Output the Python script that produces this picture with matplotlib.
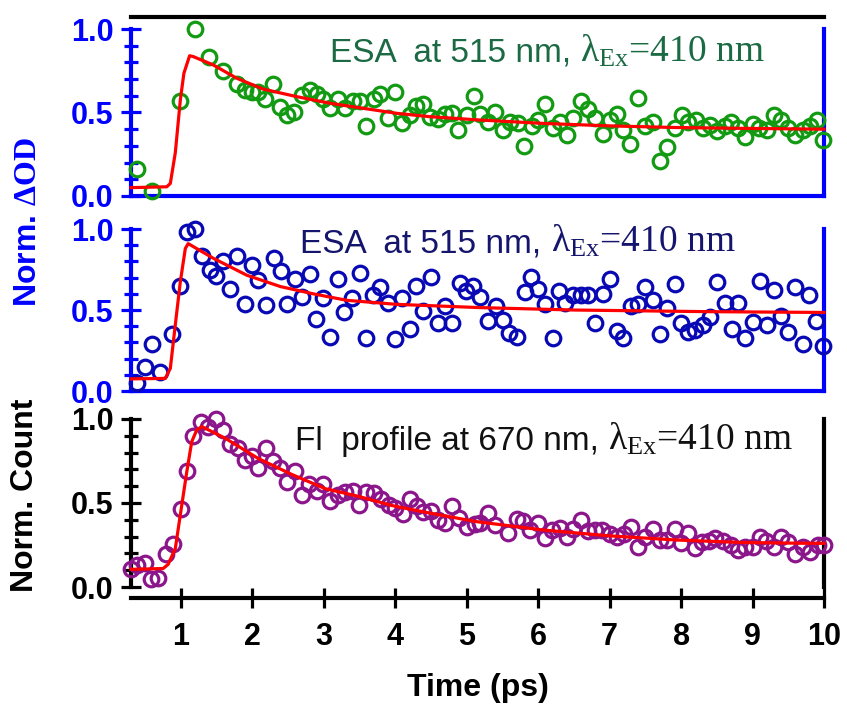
import numpy as np
import matplotlib.pyplot as plt

plt.rcParams['mathtext.fontset'] = 'custom'
plt.rcParams['mathtext.rm'] = 'Liberation Serif'
plt.rcParams['mathtext.it'] = 'Liberation Serif:italic'
plt.rcParams['mathtext.bf'] = 'Liberation Serif:bold'

# ESA 515 nm (green)
t_esa1 = [0.39, 0.59, 0.99, 1.20, 1.39, 1.59, 1.78, 1.90, 1.99, 2.08, 2.18, 2.29, 2.39, 2.48,
          2.58, 2.69, 2.81, 2.90, 2.98, 3.09, 3.20, 3.30, 3.40, 3.50, 3.59, 3.70, 3.79, 3.89,
          4.00, 4.09, 4.20, 4.29, 4.39, 4.48, 4.60, 4.69, 4.79, 4.88, 5.00, 5.10, 5.18, 5.30,
          5.39, 5.50, 5.60, 5.71, 5.80, 5.91, 6.00, 6.10, 6.20, 6.30, 6.40, 6.49, 6.60, 6.70,
          6.79, 6.90, 7.00, 7.10, 7.19, 7.28, 7.39, 7.49, 7.60, 7.70, 7.80, 7.91, 8.01, 8.10,
          8.21, 8.31, 8.41, 8.50, 8.61, 8.70, 8.80, 8.89, 9.00, 9.09, 9.20, 9.30, 9.40, 9.50,
          9.60, 9.70, 9.80, 9.90, 9.99]
y_esa1 = [0.16, 0.03, 0.57, 1.00, 0.83, 0.75, 0.67, 0.635, 0.625, 0.62, 0.58, 0.67, 0.53, 0.485,
          0.50, 0.605, 0.635, 0.61, 0.58, 0.525, 0.58, 0.525, 0.57, 0.57, 0.42, 0.58, 0.61, 0.47,
          0.62, 0.435, 0.485, 0.54, 0.55, 0.475, 0.46, 0.49, 0.495, 0.395, 0.485, 0.60, 0.49, 0.445,
          0.50, 0.395, 0.445, 0.44, 0.30, 0.42, 0.455, 0.55, 0.405, 0.445, 0.365, 0.465, 0.57, 0.52,
          0.465, 0.37, 0.455, 0.49, 0.395, 0.31, 0.585, 0.42, 0.445, 0.21, 0.295, 0.41, 0.485, 0.445,
          0.455, 0.405, 0.425, 0.39, 0.42, 0.445, 0.405, 0.355, 0.43, 0.41, 0.395, 0.485, 0.455, 0.41,
          0.365, 0.395, 0.42, 0.455, 0.335]
t_fit1 = [0.30, 0.80, 0.85, 0.92, 0.99, 1.04, 1.12, 1.17, 1.45, 1.78, 2.15, 2.62, 3.09, 3.55,
          4.02, 4.48, 5.18, 6.05, 6.98, 7.92, 8.85, 10.0]
y_fit1 = [0.05, 0.055, 0.075, 0.26, 0.575, 0.735, 0.84, 0.835, 0.785, 0.705, 0.64, 0.595, 0.555,
          0.525, 0.495, 0.475, 0.455, 0.435, 0.42, 0.41, 0.405, 0.40]

# ESA 515 nm (blue)
t_esa2 = [0.39, 0.49, 0.59, 0.70, 0.87, 0.99, 1.09, 1.20, 1.30, 1.40, 1.49, 1.59, 1.69, 1.79,
          1.90, 1.99, 2.08, 2.19, 2.30, 2.40, 2.49, 2.60, 2.70, 2.80, 2.89, 2.99, 3.09, 3.19,
          3.28, 3.39, 3.50, 3.59, 3.68, 3.79, 3.89, 4.00, 4.09, 4.20, 4.29, 4.39, 4.50, 4.59,
          4.70, 4.79, 4.90, 4.99, 5.09, 5.18, 5.30, 5.41, 5.50, 5.59, 5.70, 5.81, 5.90, 6.00,
          6.10, 6.20, 6.29, 6.38, 6.49, 6.60, 6.70, 6.80, 6.90, 7.00, 7.10, 7.19, 7.30, 7.40,
          7.50, 7.60, 7.70, 7.80, 7.91, 8.00, 8.09, 8.19, 8.30, 8.40, 8.50, 8.61, 8.71, 8.80,
          8.89, 9.00, 9.10, 9.20, 9.30, 9.40, 9.50, 9.60, 9.70, 9.79, 9.89, 9.99]
y_esa2 = [0.05, 0.15, 0.29, 0.12, 0.355, 0.65, 0.98, 1.00, 0.835, 0.745, 0.71, 0.80, 0.63, 0.835,
          0.54, 0.775, 0.685, 0.53, 0.82, 0.74, 0.535, 0.69, 0.58, 0.72, 0.445, 0.575, 0.335, 0.69,
          0.49, 0.575, 0.73, 0.33, 0.59, 0.64, 0.545, 0.32, 0.575, 0.38, 0.65, 0.495, 0.705, 0.42,
          0.525, 0.42, 0.665, 0.62, 0.65, 0.58, 0.43, 0.525, 0.44, 0.36, 0.335, 0.61, 0.705, 0.63,
          0.54, 0.325, 0.62, 0.545, 0.59, 0.595, 0.59, 0.42, 0.60, 0.69, 0.37, 0.33, 0.525, 0.54,
          0.64, 0.56, 0.355, 0.51, 0.66, 0.42, 0.365, 0.375, 0.41, 0.46, 0.67, 0.545, 0.38, 0.545,
          0.325, 0.425, 0.68, 0.405, 0.625, 0.465, 0.365, 0.64, 0.29, 0.59, 0.43, 0.275]
t_fit2 = [0.30, 0.78, 0.85, 0.92, 0.99, 1.06, 1.10, 1.45, 1.92, 2.39, 2.85, 3.32, 4.02, 5.18,
          6.51, 8.37, 10.0]
y_fit2 = [0.075, 0.078, 0.14, 0.41, 0.675, 0.88, 0.91, 0.82, 0.715, 0.645, 0.60, 0.56, 0.535,
          0.515, 0.50, 0.49, 0.485]

# Fl profile 670 nm (purple)
t_fl = [0.30, 0.39, 0.49, 0.58, 0.68, 0.79, 0.89, 1.00, 1.08, 1.17, 1.28, 1.38, 1.49, 1.59,
        1.69, 1.80, 1.89, 1.99, 2.08, 2.19, 2.29, 2.39, 2.49, 2.60, 2.69, 2.79, 2.90, 2.99,
        3.09, 3.20, 3.30, 3.40, 3.49, 3.59, 3.70, 3.80, 3.91, 4.00, 4.10, 4.21, 4.30, 4.39,
        4.50, 4.60, 4.70, 4.79, 4.89, 5.00, 5.12, 5.18, 5.30, 5.39, 5.58, 5.70, 5.79, 5.88,
        5.99, 6.09, 6.19, 6.30, 6.40, 6.49, 6.60, 6.70, 6.79, 6.89, 7.00, 7.10, 7.20, 7.30,
        7.40, 7.50, 7.60, 7.70, 7.80, 7.91, 8.00, 8.10, 8.19, 8.29, 8.39, 8.48, 8.59, 8.70,
        8.80, 8.89, 9.00, 9.10, 9.19, 9.30, 9.40, 9.50, 9.60, 9.71, 9.80, 9.91, 10.0]
y_fl = [0.11, 0.13, 0.14, 0.05, 0.055, 0.195, 0.255, 0.465, 0.69, 0.90, 0.98, 0.955, 1.00, 0.935,
        0.85, 0.83, 0.755, 0.78, 0.71, 0.83, 0.75, 0.71, 0.625, 0.69, 0.545, 0.615, 0.57, 0.615,
        0.51, 0.545, 0.565, 0.57, 0.49, 0.565, 0.56, 0.525, 0.49, 0.47, 0.435, 0.525, 0.485, 0.445,
        0.45, 0.40, 0.38, 0.485, 0.41, 0.36, 0.375, 0.38, 0.44, 0.37, 0.32, 0.405, 0.39, 0.34,
        0.38, 0.29, 0.34, 0.35, 0.30, 0.345, 0.40, 0.335, 0.34, 0.34, 0.315, 0.30, 0.315, 0.36,
        0.24, 0.30, 0.345, 0.28, 0.28, 0.345, 0.26, 0.32, 0.235, 0.27, 0.275, 0.29, 0.275, 0.25,
        0.22, 0.24, 0.24, 0.30, 0.275, 0.24, 0.295, 0.265, 0.195, 0.24, 0.21, 0.25, 0.25]
t_fit3 = [0.30, 0.75, 0.82, 0.92, 0.99, 1.08, 1.15, 1.22, 1.29, 1.62, 2.08, 2.55, 3.02, 3.48,
          3.95, 4.42, 5.12, 6.05, 6.98, 7.92, 8.85, 9.78, 10.0]
y_fit3 = [0.105, 0.11, 0.135, 0.23, 0.43, 0.685, 0.865, 0.935, 0.955, 0.885, 0.765, 0.67, 0.585,
          0.54, 0.485, 0.445, 0.39, 0.34, 0.305, 0.28, 0.265, 0.26, 0.26]

xticks = [1, 2, 3, 4, 5, 6, 7, 8, 9, 10]
yticks = [0.0, 0.5, 1.0]

BLUE = '#0000ff'
exc = r'$\mathrm{\lambda_{Ex}}$=410 nm'
panels = [
    dict(t=t_esa1, y=y_esa1, tf=t_fit1, yf=y_fit1, mc='#129a12', axc=BLUE,
         txt='ESA  at 515 nm, ', tc='#1b6a44',
         pos=[0.1547, 0.7232, 0.8182, 0.2528], ylim=(0, 1.072), tx=0.287, ty=0.749),
    dict(t=t_esa2, y=y_esa2, tf=t_fit2, yf=y_fit2, mc='#0808b4', axc=BLUE,
         txt='ESA  at 515 nm, ', tc='#15156e',
         pos=[0.1547, 0.4477, 0.8182, 0.2288], ylim=(0, 1.0), tx=0.244, ty=0.858),
    dict(t=t_fl, y=y_fl, tf=t_fit3, yf=y_fit3, mc='#8b168b', axc='black',
         txt='Fl  profile at 670 nm, ', tc='#111111',
         pos=[0.1547, 0.1709, 0.8182, 0.2373], ylim=(0, 1.0), tx=0.237, ty=0.815),
]

fig = plt.figure(figsize=(8.47, 7.08), dpi=100)
labels = []
for i, p in enumerate(panels):
    ax = fig.add_axes(p['pos'])
    ax.plot(p['t'], p['y'], 'o', ms=10.5, mfc='none', mec=p['mc'], mew=2.3, clip_on=False, zorder=3)
    ax.plot(p['tf'], p['yf'], '-', color='#ff0000', lw=2.3, clip_on=False, zorder=4)
    ax.set_xlim(0.3, 10)
    ax.set_ylim(*p['ylim'])
    ax.set_yticks(yticks)
    ax.set_yticklabels(['%.1f' % v for v in yticks])
    ax.set_yticks(np.arange(0, 1.01, 0.1), minor=True)
    ax.tick_params(axis='y', which='major', direction='inout', length=15, width=2.3,
                   colors=p['axc'], labelsize=22, pad=5)
    ax.tick_params(axis='y', which='minor', direction='inout', length=10, width=2.3, colors=p['axc'])
    for lab in ax.get_yticklabels():
        lab.set_fontweight('bold')
        lab.set_fontfamily('Liberation Sans')
    for s in ['left', 'right']:
        ax.spines[s].set_color(p['axc'])
        ax.spines[s].set_linewidth(3)
        ax.spines[s].set_bounds(0, 1.0)
    ax.spines['bottom'].set_linewidth(3)
    ax.spines['bottom'].set_color(p['axc'])
    if i == 0:
        ax.spines['top'].set_color('black')
        ax.spines['top'].set_linewidth(3)
    else:
        ax.spines['top'].set_visible(False)
    if i < 2:
        ax.set_xticks([])
    else:
        ax.spines['bottom'].set_position(('outward', 8))
        ax.set_xticks(xticks)
        ax.set_xticklabels([str(v) for v in xticks])
        ax.tick_params(axis='x', direction='inout', length=14, width=2.3, labelsize=22, pad=10)
        for lab in ax.get_xticklabels():
            lab.set_fontweight('bold')
            lab.set_fontfamily('Liberation Sans')
    t1 = ax.text(p['tx'], p['ty'], p['txt'], transform=ax.transAxes, fontsize=24,
                 color=p['tc'], family='Liberation Sans', va='baseline', ha='left')
    ax.patch.set_alpha(0)
    labels.append((ax, t1, p))

# the excitation part is set in a serif face, right after the sans part
fig.canvas.draw()
for ax, t1, p in labels:
    bb = t1.get_window_extent()
    x2 = ax.transAxes.inverted().transform((bb.x1, 0))[0]
    ax.text(x2, p['ty'], exc, transform=ax.transAxes, fontsize=27, color=p['tc'],
            family='Liberation Serif', va='baseline', ha='left')

fig.text(0.033, 0.686, r'Norm. $\mathbf{\Delta OD}$', rotation=90, color=BLUE, fontsize=23,
         fontweight='bold', family='Liberation Sans', ha='center', va='center')
fig.text(0.030, 0.301, 'Norm. Count', rotation=90, color='black', fontsize=23,
         fontweight='bold', family='Liberation Sans', ha='center', va='center')
fig.text(0.564, 0.028, 'Time (ps)', color='black', fontsize=23,
         fontweight='bold', family='Liberation Sans', ha='center', va='center')

plt.savefig('out.png', dpi=100)
